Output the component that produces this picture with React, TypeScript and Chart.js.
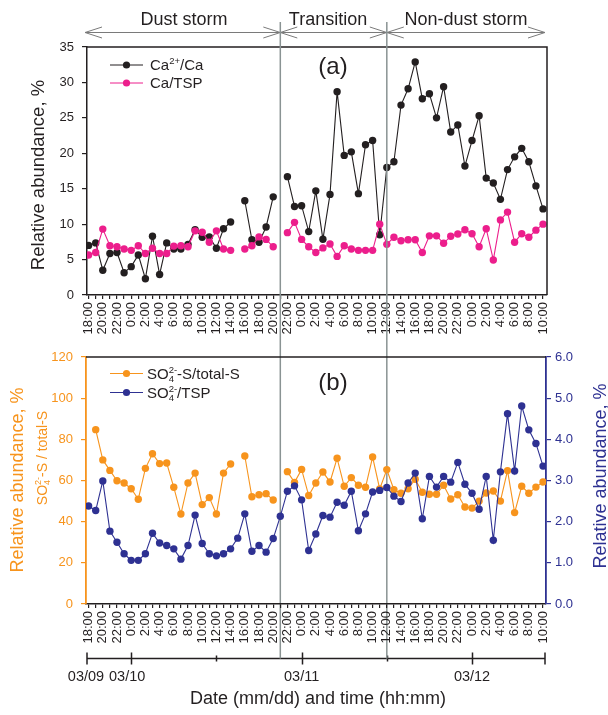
import React, { useEffect, useRef } from 'react';
import { Chart, registerables } from 'chart.js';

Chart.register(...registerables);

// ---------- data (hourly, 03/09 18:00 -> 03/12 10:00) ----------
const hourIndex: number[] = Array.from({ length: 65 }, (_, i) => i);

const timeLabels: string[] = [
  '18:00', '20:00', '22:00', '0:00', '2:00', '4:00', '6:00', '8:00', '10:00', '12:00', '14:00',
  '16:00', '18:00', '20:00', '22:00', '0:00', '2:00', '4:00', '6:00', '8:00', '10:00', '12:00',
  '14:00', '16:00', '18:00', '20:00', '22:00', '0:00', '2:00', '4:00', '6:00', '8:00', '10:00',
];

const caIonToCa: (number | null)[] = [
  7.0, 7.35, 3.5, 5.85, 6.0, 3.15, 4.0, 5.65, 2.3, 8.3, 2.9, 7.35, 6.5, 6.5, 7.15, 9.2, 8.15, 8.2,
  6.6, 9.35, 10.3, null, 13.3, 7.8, 7.45, 9.6, 13.85, null, 16.7, 12.5, 12.6, 8.95, 14.7, 7.86,
  14.2, 28.7, 19.7, 20.2, 14.3, 21.2, 21.8, 8.5, 18.0, 18.8, 26.8, 29.1, 32.9, 27.7, 28.4, 25.0,
  29.4, 23.0, 24.0, 18.2, 21.8, 25.3, 16.5, 15.8, 13.5, 17.7, 19.5, 20.7, 18.8, 15.4, 12.15,
];

const caToTsp: (number | null)[] = [
  5.65, 6.0, 9.3, 6.95, 6.8, 6.5, 6.3, 6.95, 5.85, 6.6, 5.85, 5.85, 6.9, 6.95, 6.8, 9.05, 8.85,
  7.45, 9.05, 6.5, 6.3, null, 6.5, 6.95, 8.2, 7.85, 6.8, null, 8.8, 10.25, 7.85, 6.8, 6.0, 6.65,
  7.2, 5.45, 6.95, 6.5, 6.3, 6.3, 6.3, 10.0, 7.15, 8.15, 7.65, 7.8, 7.8, 6.0, 8.35, 8.35, 7.3,
  8.3, 8.6, 9.2, 8.65, 6.8, 9.35, 4.95, 10.6, 11.7, 7.45, 8.65, 8.15, 9.15, 10.0,
];

const sulfateSToTotalS: (number | null)[] = [
  null, 84.7, 70.0, 64.9, 59.9, 58.8, 56.0, 50.9, 65.9, 73.0, 68.2, 68.5, 56.7, 43.7, 58.8, 63.6,
  48.3, 51.7, 43.7, 63.6, 68.0, null, 71.9, 52.1, 53.1, 53.6, 50.5, null, 64.3, 59.1, 65.4, 52.7,
  58.8, 64.1, 59.3, 70.8, 57.2, 61.4, 57.7, 56.7, 71.4, 55.9, 65.3, 55.5, 53.8, 56.0, 60.6, 54.3,
  53.3, 53.3, 57.7, 51.0, 53.1, 47.1, 46.6, 50.0, 53.9, 54.9, 50.0, 64.8, 44.4, 57.2, 53.8, 56.8,
  59.3,
];

const sulfateToTsp: (number | null)[] = [
  2.38, 2.27, 2.99, 1.77, 1.5, 1.22, 1.06, 1.06, 1.22, 1.72, 1.48, 1.42, 1.34, 1.09, 1.42, 2.16,
  1.47, 1.22, 1.17, 1.22, 1.34, 1.6, 2.19, 1.28, 1.42, 1.26, 1.59, 2.13, 2.74, 2.87, 2.53, 1.3,
  1.7, 2.15, 2.11, 2.47, 2.4, 2.74, 1.78, 2.19, 2.72, 2.76, 2.83, 2.62, 2.49, 2.94, 3.18, 2.07,
  3.1, 2.84, 3.1, 2.96, 3.44, 2.91, 2.69, 2.3, 3.1, 1.55, 3.21, 4.62, 3.23, 4.81, 4.23, 3.9,
  3.35,
];

const periodBoundaryHours: number[] = [27, 42];
const periodNames: string[] = ['Dust storm', 'Transition', 'Non-dust storm'];
const dateTickHours: number[] = [6, 30, 54];
const dateLabels: string[] = ['03/09', '03/10', '03/11', '03/12'];
const halfDayTickHours: number[] = [18, 42];

// ---------- styles ----------
const FONT = '"Liberation Sans", Arial, Helvetica, sans-serif';
const TEXT = '#231f20';
const BLACK = '#231f20';
const PINK = '#ec1e8c';
const ORANGE = '#f7941d';
const NAVY = '#2e3192';
const GRAY = '#8a9393';
const ARROW = '#7a7a7a';

const toPoints = (arr: (number | null)[]) => arr.map((v, i) => ({ x: hourIndex[i], y: v }));
const labelForHour = (i: number) => (i % 2 === 0 ? timeLabels[i / 2] : '');

type Part = { t: string; k?: 'n' | 'sup' | 'stack'; t2?: string };

function drawRich(
  ctx: CanvasRenderingContext2D,
  parts: Part[],
  x: number,
  yMid: number,
  size: number,
  small: number,
  color: string,
  align: 'left' | 'center',
) {
  const big = `${size}px ${FONT}`;
  const sm = `${small}px ${FONT}`;
  const widths = parts.map((p) => {
    if (!p.k || p.k === 'n') {
      ctx.font = big;
      return ctx.measureText(p.t).width;
    }
    ctx.font = sm;
    const w1 = ctx.measureText(p.t).width;
    const w2 = p.t2 ? ctx.measureText(p.t2).width : 0;
    return Math.max(w1, w2);
  });
  const total = widths.reduce((a, b) => a + b, 0);
  let cx = align === 'center' ? x - total / 2 : x;
  const base = yMid + size * 0.36;
  ctx.fillStyle = color;
  ctx.textAlign = 'left';
  ctx.textBaseline = 'alphabetic';
  parts.forEach((p, i) => {
    if (!p.k || p.k === 'n') {
      ctx.font = big;
      ctx.fillText(p.t, cx, base);
    } else if (p.k === 'sup') {
      ctx.font = sm;
      ctx.fillText(p.t, cx, base - size * 0.42);
    } else {
      ctx.font = sm;
      ctx.fillText(p.t, cx, base - size * 0.42);
      if (p.t2) ctx.fillText(p.t2, cx, base + size * 0.22);
    }
    cx += widths[i];
  });
}

function drawRotated(ctx: CanvasRenderingContext2D, x: number, y: number, fn: () => void) {
  ctx.save();
  ctx.translate(x, y);
  ctx.rotate(-Math.PI / 2);
  fn();
  ctx.restore();
}

function legendRow(ctx: CanvasRenderingContext2D, y: number, color: string, parts: Part[], textX: number) {
  ctx.strokeStyle = color;
  ctx.lineWidth = 1;
  ctx.beginPath();
  ctx.moveTo(110, y);
  ctx.lineTo(143, y);
  ctx.stroke();
  ctx.fillStyle = color;
  ctx.beginPath();
  ctx.arc(126.5, y, 3.6, 0, Math.PI * 2);
  ctx.fill();
  drawRich(ctx, parts, textX, y, 15, 9.5, TEXT, 'left');
}

const xScale = (min: number, max: number) => ({
  type: 'linear' as const,
  position: 'bottom' as const,
  min,
  max,
  afterBuildTicks: (s: any) => {
    s.ticks = hourIndex.map((h) => ({ value: h }));
  },
  ticks: {
    autoSkip: false,
    maxRotation: 90,
    minRotation: 90,
    padding: 3,
    font: { family: FONT, size: 13 },
    color: TEXT,
    callback: (_v: any, i: number) => labelForHour(i),
  },
  grid: { display: true, drawOnChartArea: false, drawTicks: true, tickLength: 4, color: BLACK, lineWidth: 1.2 },
  border: { display: true, color: BLACK, width: 1.5 },
  afterFit: (s: any) => {
    s.height = 50;
    s.paddingLeft = 0;
    s.paddingRight = 0;
  },
});

const overlayA = {
  id: 'overlayA',
  afterDraw(chart: any) {
    const ctx: CanvasRenderingContext2D = chart.ctx;
    const { left, right, top, bottom } = chart.chartArea;
    const xs = chart.scales.x;
    ctx.save();
    // frame
    ctx.strokeStyle = BLACK;
    ctx.lineWidth = 1.5;
    ctx.beginPath();
    ctx.moveTo(left, Math.round(top));
    ctx.lineTo(Math.round(right), Math.round(top));
    ctx.lineTo(Math.round(right), bottom);
    ctx.stroke();

    // panel label
    ctx.fillStyle = TEXT;
    ctx.font = `24px ${FONT}`;
    ctx.textAlign = 'center';
    ctx.textBaseline = 'middle';
    ctx.fillText('(a)', 333, 67);

    // legend
    legendRow(ctx, 65, BLACK, [{ t: 'Ca' }, { t: '2+', k: 'sup' }, { t: '/Ca' }], 150);
    legendRow(ctx, 83, PINK, [{ t: 'Ca' }, { t: '/' }, { t: 'TSP' }], 150);

    // y title
    drawRotated(ctx, 38.5, 175, () => {
      ctx.fillStyle = TEXT;
      ctx.font = `18.5px ${FONT}`;
      ctx.textAlign = 'center';
      ctx.textBaseline = 'middle';
      ctx.fillText('Relative abundance, %', 0, 0);
    });

    // period annotation
    const bx = periodBoundaryHours.map((h) => xs.getPixelForValue(h));
    const ay = 32.5;
    const aL = 85;
    const aR = 545;
    ctx.strokeStyle = ARROW;
    ctx.lineWidth = 1;
    ctx.beginPath();
    ctx.moveTo(aL, ay);
    ctx.lineTo(aR, ay);
    const head = (x: number, dir: number) => {
      ctx.moveTo(x, ay);
      ctx.lineTo(x + dir * 17, ay - 5.5);
      ctx.moveTo(x, ay);
      ctx.lineTo(x + dir * 17, ay + 5.5);
    };
    head(aL, 1);
    head(aR, -1);
    bx.forEach((x) => {
      head(x, 1);
      head(x, -1);
    });
    ctx.stroke();
    ctx.fillStyle = TEXT;
    ctx.font = `18px ${FONT}`;
    ctx.textAlign = 'center';
    ctx.textBaseline = 'middle';
    const segs = [aL, ...bx, aR];
    const nameX = [184, 328, 466];
    periodNames.forEach((n, i) => {
      ctx.fillText(n, nameX[i] ?? (segs[i] + segs[i + 1]) / 2, 20);
    });

    // date axis
    const dy = 658.5;
    const dL = Math.round(left);
    const dR = 545;
    ctx.strokeStyle = BLACK;
    ctx.lineWidth = 1.5;
    ctx.beginPath();
    ctx.moveTo(dL, dy);
    ctx.lineTo(dR, dy);
    const tick = (x: number, h: number) => {
      ctx.moveTo(x, dy - h);
      ctx.lineTo(x, dy + h);
    };
    tick(dL, 6);
    tick(dR, 6);
    dateTickHours.forEach((h) => tick(Math.round(xs.getPixelForValue(h)) + 0.5, 6));
    halfDayTickHours.forEach((h) => tick(Math.round(xs.getPixelForValue(h)) + 0.5, 3));
    ctx.stroke();

    ctx.fillStyle = TEXT;
    ctx.font = `14.5px ${FONT}`;
    ctx.textAlign = 'center';
    ctx.textBaseline = 'middle';
    const dateX = [dL - 1, ...dateTickHours.map((h) => xs.getPixelForValue(h))];
    dateLabels.forEach((l, i) => {
      const x = i === 1 ? dateX[i] - 4 : dateX[i];
      ctx.fillText(l, x, 677);
    });
    ctx.font = `18px ${FONT}`;
    ctx.fillText('Date (mm/dd) and time (hh:mm)', 318, 699);

    // period boundary lines
    ctx.strokeStyle = GRAY;
    ctx.lineWidth = 1.5;
    ctx.beginPath();
    bx.forEach((x) => {
      ctx.moveTo(x, 22);
      ctx.lineTo(x, dy);
    });
    ctx.stroke();
    ctx.restore();
  },
};

const overlayB = {
  id: 'overlayB',
  afterDraw(chart: any) {
    const ctx: CanvasRenderingContext2D = chart.ctx;
    const { left, right, top } = chart.chartArea;
    ctx.save();
    ctx.strokeStyle = BLACK;
    ctx.lineWidth = 1.5;
    ctx.beginPath();
    ctx.moveTo(left, Math.round(top));
    ctx.lineTo(right, Math.round(top));
    ctx.stroke();

    ctx.fillStyle = TEXT;
    ctx.font = `24px ${FONT}`;
    ctx.textAlign = 'center';
    ctx.textBaseline = 'middle';
    ctx.fillText('(b)', 333, 383);

    legendRow(ctx, 373.5, ORANGE, [{ t: 'SO' }, { t: '2-', k: 'stack', t2: '4' }, { t: '-S' }, { t: '/' }, { t: 'total-S' }], 147);
    legendRow(ctx, 392.5, NAVY, [{ t: 'SO' }, { t: '2-', k: 'stack', t2: '4' }, { t: '/' }, { t: 'TSP' }], 147);

    drawRotated(ctx, 18.5, 480, () => {
      ctx.fillStyle = ORANGE;
      ctx.font = `18px ${FONT}`;
      ctx.textAlign = 'center';
      ctx.textBaseline = 'middle';
      ctx.fillText('Relative abundance, %', 0, 0);
    });
    drawRotated(ctx, 42, 458, () => {
      drawRich(ctx, [{ t: 'SO' }, { t: '2-', k: 'stack', t2: '4' }, { t: '-S / total-S' }], 0, 0, 14, 9, ORANGE, 'center');
    });
    drawRotated(ctx, 601, 476, () => {
      ctx.fillStyle = NAVY;
      ctx.font = `18px ${FONT}`;
      ctx.textAlign = 'center';
      ctx.textBaseline = 'middle';
      ctx.fillText('Relative abundance, %', 0, 0);
    });
    ctx.restore();
  },
};

const lineDs = (label: string, data: (number | null)[], color: string, extra: any = {}) => ({
  label,
  data: toPoints(data),
  borderColor: color,
  backgroundColor: color,
  pointBackgroundColor: color,
  pointBorderColor: color,
  pointBorderWidth: 0,
  pointRadius: 3.7,
  borderWidth: 1.1,
  tension: 0,
  spanGaps: false,
  ...extra,
});

export default function App() {
  const refA = useRef<HTMLCanvasElement>(null);
  const refB = useRef<HTMLCanvasElement>(null);

  useEffect(() => {
    const chartA = new Chart(refA.current as HTMLCanvasElement, {
      type: 'line',
      data: {
        datasets: [
          lineDs('Ca2+/Ca', caIonToCa, BLACK, { order: 1 }),
          lineDs('Ca/TSP', caToTsp, PINK, { order: 0 }),
        ],
      },
      options: {
        animation: false,
        responsive: false,
        devicePixelRatio: 1,
        layout: { padding: { left: 0, top: 47, right: 61, bottom: 370 } },
        plugins: { legend: { display: false }, tooltip: { enabled: false } },
        scales: {
          x: xScale(-0.225, 64.56) as any,
          y: {
            type: 'linear',
            position: 'left',
            min: 0,
            max: 35,
            ticks: { stepSize: 5, padding: 8, font: { family: FONT, size: 13 }, color: TEXT },
            grid: { display: true, drawOnChartArea: false, drawTicks: true, tickLength: 5, color: BLACK, lineWidth: 1.2 },
            border: { display: true, color: BLACK, width: 1.5 },
            afterFit: (s: any) => {
              s.width = 87;
              s.paddingTop = 0;
              s.paddingBottom = 0;
            },
          } as any,
        },
      },
      plugins: [overlayA],
    });

    const chartB = new Chart(refB.current as HTMLCanvasElement, {
      type: 'line',
      data: {
        datasets: [
          lineDs('SO4 2- /TSP', sulfateToTsp, NAVY, { yAxisID: 'y1', order: 0 }),
          lineDs('SO4 2- -S/total-S', sulfateSToTotalS, ORANGE, { yAxisID: 'y', order: 1 }),
        ],
      },
      options: {
        animation: false,
        responsive: false,
        devicePixelRatio: 1,
        layout: { padding: { left: 0, top: 357, right: 0, bottom: 61 } },
        plugins: { legend: { display: false }, tooltip: { enabled: false } },
        scales: {
          x: xScale(-0.366, 64.42) as any,
          y: {
            type: 'linear',
            position: 'left',
            min: 0,
            max: 120,
            ticks: { stepSize: 20, padding: 8, font: { family: FONT, size: 13 }, color: ORANGE },
            grid: { display: true, drawOnChartArea: false, drawTicks: true, tickLength: 5, color: ORANGE, lineWidth: 1.2 },
            border: { display: true, color: ORANGE, width: 1.8 },
            afterFit: (s: any) => {
              s.width = 86;
              s.paddingTop = 0;
              s.paddingBottom = 0;
            },
          } as any,
          y1: {
            type: 'linear',
            position: 'right',
            min: 0,
            max: 6,
            ticks: {
              stepSize: 1,
              padding: 4,
              font: { family: FONT, size: 13 },
              color: NAVY,
              callback: (v: any) => Number(v).toFixed(1),
            },
            grid: { display: true, drawOnChartArea: false, drawTicks: true, tickLength: 5, color: NAVY, lineWidth: 1.2 },
            border: { display: true, color: NAVY, width: 1.8 },
            afterFit: (s: any) => {
              s.width = 62;
              s.paddingTop = 0;
              s.paddingBottom = 0;
            },
          } as any,
        },
      },
      plugins: [overlayB],
    });

    return () => {
      chartA.destroy();
      chartB.destroy();
    };
  }, []);

  return (
    <div style={{ position: 'absolute', left: 0, top: 0, width: 608, height: 715, background: '#ffffff' }}>
      <canvas ref={refA} width={608} height={715} style={{ position: 'absolute', left: 0, top: 0 }} />
      <canvas ref={refB} width={608} height={715} style={{ position: 'absolute', left: 0, top: 0 }} />
    </div>
  );
}
